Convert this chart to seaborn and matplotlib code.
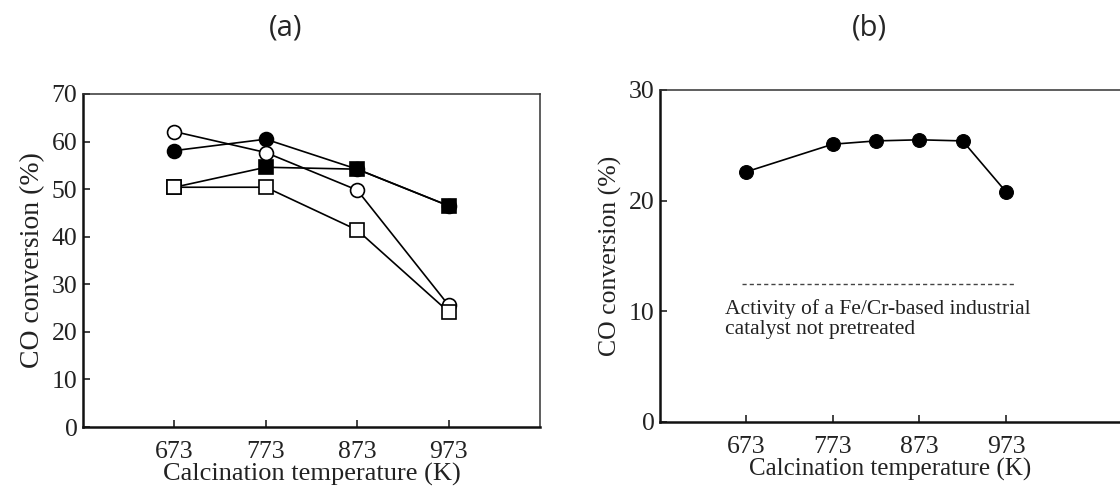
import matplotlib
matplotlib.use("Agg")
import matplotlib.pyplot as plt
import seaborn as sns
import pandas as pd

# ---- data ----
temps_a = [673, 773, 873, 973]
open_circle = [62.1, 57.7, 49.8, 25.6]
filled_circle = [58.1, 60.5, 54.2, 46.5]
filled_square = [50.4, 54.6, 54.2, 46.5]
open_square = [50.4, 50.4, 41.4, 24.2]

temps_b = [673, 773, 823, 873, 923, 973]
conv_b = [22.6, 25.1, 25.4, 25.5, 25.4, 20.8]
industrial_level = 12.5
industrial_text = "Activity of a Fe/Cr-based industrial\ncatalyst not pretreated"

xticks = [673, 773, 873, 973]
yticks_a = [0, 10, 20, 30, 40, 50, 60, 70]
yticks_b = [0, 10, 20, 30]
xlabel = "Calcination temperature (K)"
ylabel = "CO conversion (%)"

sns.set_theme(style="ticks")
plt.rcParams['font.family'] = ['Liberation Serif', 'DejaVu Serif']

W, H = 1120, 491
fig = plt.figure(figsize=(W / 100, H / 100), dpi=100)

def frac(x0, x1, ytop, ybot):
    return [x0 / W, 1 - ybot / H, (x1 - x0) / W, (ybot - ytop) / H]

ax1 = fig.add_axes(frac(83, 540, 94, 427))
ax2 = fig.add_axes(frac(660, 1120, 90, 422))

series = [
    (filled_circle, 'o', 'black'),
    (filled_square, 's', 'black'),
    (open_circle, 'o', 'white'),
    (open_square, 's', 'white'),
]
for vals, mk, fc in series:
    df = pd.DataFrame({"T": temps_a, "v": vals})
    sns.lineplot(data=df, x="T", y="v", ax=ax1, color="black", lw=1.2,
                 marker=mk, markersize=10, markerfacecolor=fc,
                 markeredgecolor="black", markeredgewidth=1.2, legend=False)

dfb = pd.DataFrame({"T": temps_b, "v": conv_b})
sns.lineplot(data=dfb, x="T", y="v", ax=ax2, color="black", lw=1.2,
             marker='o', markersize=10, markerfacecolor="black",
             markeredgecolor="black", legend=False)
ax2.plot([668, 982], [industrial_level] * 2, ls=(0, (3, 2.2)), color="#444444", lw=1.0)
ax2.text(649, 11.1, industrial_text, fontsize=15.5, va="top", ha="left",
         color="#222222", linespacing=1.1)

ax1.set_xlim(573, 1073)
ax1.set_ylim(0, 70)
ax2.set_xlim(573.8, 1104.5)
ax2.set_ylim(0, 30)

for ax, yt, xs, ys in ((ax1, yticks_a, 19, 20), (ax2, yticks_b, 18, 18.5)):
    ax.set_xticks(xticks)
    ax.set_yticks(yt)
    ax.tick_params(direction="in", length=5, width=1.2, labelsize=18.5,
                   colors="#222222")
    ax.tick_params(axis="x", pad=10)
    ax.tick_params(axis="y", pad=4)
    ax.set_xlabel(xlabel, fontsize=xs, color="#222222", labelpad=0)
    ax.set_ylabel(ylabel, fontsize=ys, color="#222222", labelpad=5)
    for s in ("left", "bottom"):
        ax.spines[s].set_linewidth(1.8)
        ax.spines[s].set_color("#111111")
    for s in ("top", "right"):
        ax.spines[s].set_linewidth(1.1)
        ax.spines[s].set_color("#333333")
    ax.set_facecolor("white")

ax2.spines["right"].set_visible(False)

fig.text(286 / W, 1 - 28 / H, "(a)", fontsize=21, family=["Open Sans", "DejaVu Sans"],
         ha="center", va="center")
fig.text(869 / W, 1 - 28 / H, "(b)", fontsize=21, family=["Open Sans", "DejaVu Sans"],
         ha="center", va="center")

fig.savefig("out.png", dpi=100, facecolor="white")
